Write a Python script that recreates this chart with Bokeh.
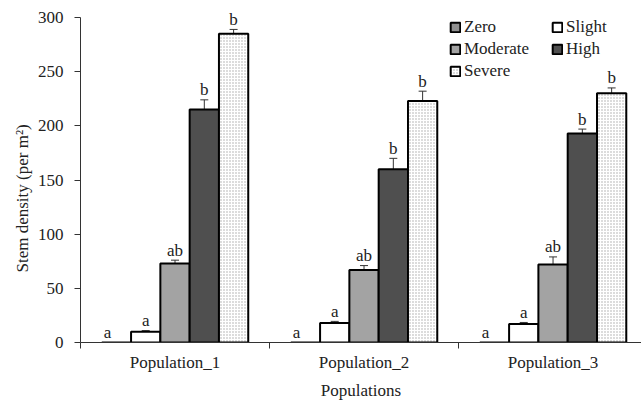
from bokeh.plotting import figure
from bokeh.models import (Range1d, FixedTicker, ColumnDataSource, Whisker, TeeHead,
                          Legend, LegendItem, Title)
from bokeh.core.properties import value
from bokeh.embed import file_html
from bokeh.resources import INLINE

# ---- data ----
populations = ["Population_1", "Population_2", "Population_3"]
levels = ["Zero", "Slight", "Moderate", "High", "Severe"]
zero = [0, 0, 0]
slight = [10, 18, 17]
moderate = [73, 67, 72]
high = [215, 160, 193]
severe = [285, 223, 230]
zero_err = [0, 0, 0]
slight_err = [1, 1.5, 1.5]
moderate_err = [3, 4, 7]
high_err = [9, 10, 4]
severe_err = [4, 9, 5]
letters = {"Zero": "a", "Slight": "a", "Moderate": "ab", "High": "b", "Severe": "b"}
y_ticks = [0, 50, 100, 150, 200, 250, 300]
x_title = "Populations"
y_title = "Stem density (per m²)"

values = {"Zero": zero, "Slight": slight, "Moderate": moderate, "High": high, "Severe": severe}
errors = {"Zero": zero_err, "Slight": slight_err, "Moderate": moderate_err,
          "High": high_err, "Severe": severe_err}

FONT = "Liberation Serif"
FS = "17px"
TXT = "#222222"
styles = {
    "Zero": dict(fill_color="#8f8f8f"),
    "Slight": dict(fill_color="white"),
    "Moderate": dict(fill_color="#a3a3a3"),
    "High": dict(fill_color="#4f4f4f"),
    "Severe": dict(fill_color="white", hatch_pattern="dot", hatch_color="#a8a8a8",
                   hatch_scale=3, hatch_weight=1),
}
# letters over zero-height bars sit a little left of the bar centre in the reference
label_dx = {"Zero": -9, "Slight": 0, "Moderate": 0, "High": 0, "Severe": 0}

bar_w = 0.155

p = figure(width=641, height=404, output_backend="svg", toolbar_location=None,
           x_range=Range1d(0, 2.968), y_range=Range1d(0, 315.7),
           min_border_left=80, min_border_right=0, min_border_top=0, min_border_bottom=62)
p.outline_line_color = None
p.xgrid.visible = False
p.ygrid.visible = False
p.background_fill_color = "white"

renderers = {}
for j, lvl in enumerate(levels):
    xs = [i + 0.5 + (j - 2) * bar_w for i in range(len(populations))]
    vals = values[lvl]
    errs = errors[lvl]
    src = ColumnDataSource(dict(
        x=xs, top=vals,
        upper=[v + e for v, e in zip(vals, errs)],
        lower=[v - e for v, e in zip(vals, errs)],
        lab=[letters[lvl]] * len(xs),
    ))
    r = p.vbar(x="x", top="top", bottom=0, width=bar_w, source=src,
               line_color="black", line_width=2, **styles[lvl])
    renderers[lvl] = r
    if lvl != "Zero":
        w = Whisker(base="x", upper="upper", lower="lower", source=src,
                    line_color="#333333", line_width=1,
                    upper_head=TeeHead(size=8, line_color="#333333", line_width=1),
                    lower_head=TeeHead(size=8, line_color="#333333", line_width=1))
        p.add_layout(w)
    p.text(x="x", y="upper", text="lab", source=src, text_align="center",
           text_baseline="alphabetic", x_offset=label_dx[lvl], y_offset=-10,
           text_font=value(FONT), text_font_size=FS, text_color=TXT)

# y axis
yax = p.yaxis[0]
yax.ticker = FixedTicker(ticks=y_ticks)
yax.bounds = (0, 300)
yax.major_label_text_font = FONT
yax.major_label_text_font_size = FS
yax.major_label_text_color = TXT
yax.major_label_standoff = 11
yax.major_tick_in = 0
yax.major_tick_out = 6
yax.minor_tick_line_color = None
yax.axis_line_color = "#333333"
yax.major_tick_line_color = "#333333"

# y axis title (a side title, so it can sit lower than the frame centre as in the reference)
p.add_layout(Title(text=y_title, align="left", offset=70, standoff=6,
                   text_font=FONT, text_font_size=FS, text_font_style="normal",
                   text_color=TXT), "left")

# x axis: labels at group centres, ticks at group boundaries
xax = p.xaxis[0]
xax.ticker = FixedTicker(ticks=[i + 0.5 for i in range(len(populations))],
                         minor_ticks=list(range(len(populations) + 1)))
xax.major_label_overrides = {i + 0.5: name for i, name in enumerate(populations)}
xax.major_tick_line_color = None
xax.major_tick_out = 0
xax.major_tick_in = 0
xax.minor_tick_in = 0
xax.minor_tick_out = 6
xax.minor_tick_line_color = "#333333"
xax.axis_line_color = "#333333"
xax.axis_label = x_title
xax.axis_label_text_font = FONT
xax.axis_label_text_font_style = "normal"
xax.axis_label_text_font_size = FS
xax.axis_label_text_color = TXT
xax.axis_label_standoff = 6
xax.major_label_text_font = FONT
xax.major_label_text_font_size = FS
xax.major_label_text_color = TXT
xax.major_label_standoff = 4

# legend: column-major grid, so order items to read row-wise as in the reference
legend_order = ["Zero", "Moderate", "Severe", "Slight", "High"]
legend = Legend(items=[LegendItem(label=lvl, renderers=[renderers[lvl]]) for lvl in legend_order],
                ncols=2, location=(369, 261), padding=0, margin=0, spacing=2,
                glyph_width=12, glyph_height=12, label_standoff=3, label_width=85,
                label_height=20, label_text_font=FONT, label_text_font_size=FS,
                label_text_color=TXT, border_line_color=None, background_fill_alpha=0)
p.add_layout(legend)

open("out.html", "w").write(file_html(p, INLINE))
